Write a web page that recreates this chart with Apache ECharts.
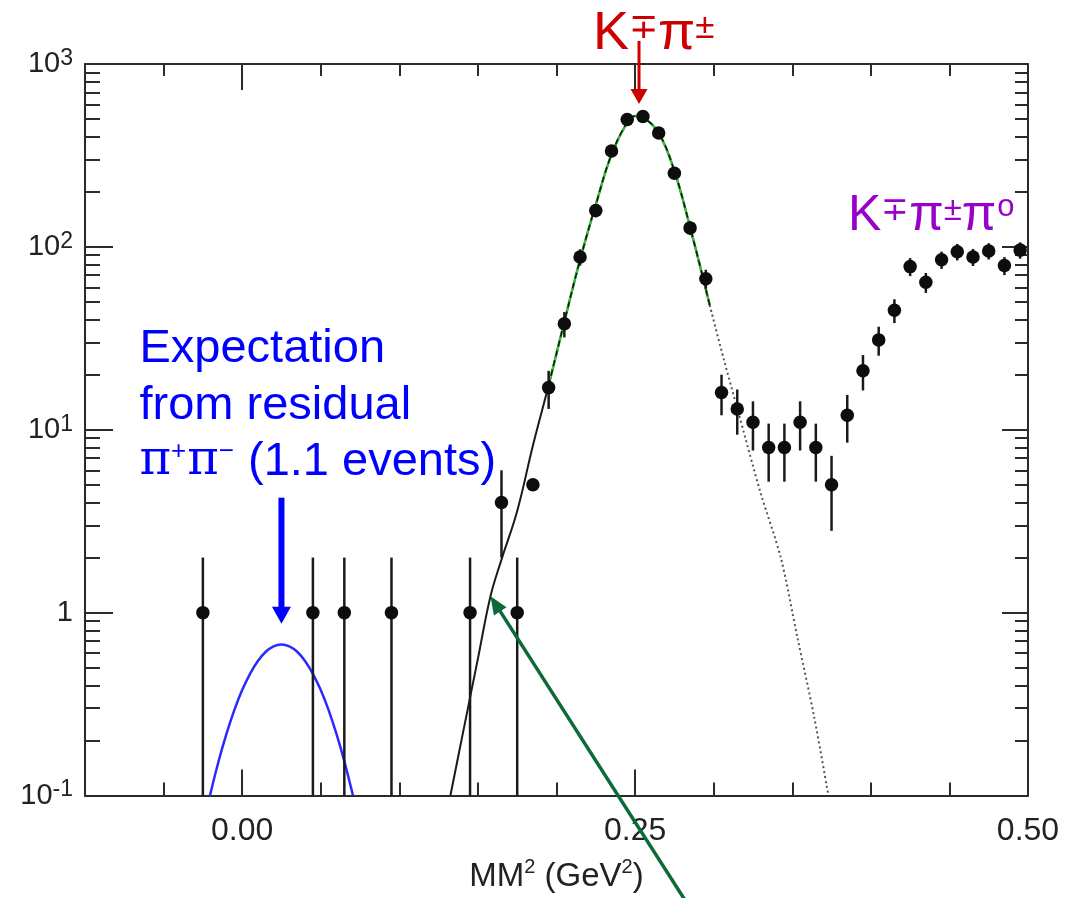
<!DOCTYPE html>
<html><head><meta charset="utf-8">
<script src="https://cdn.jsdelivr.net/npm/echarts@6/dist/echarts.min.js"></script>
<style>html,body{margin:0;padding:0;background:#fff}#c{width:1071px;height:898px}</style>
</head><body><div id="c"></div>
<script>
// ---- data ----
const binCenters = [-0.025, 0.045, 0.065, 0.095, 0.145, 0.165, 0.175, 0.185, 0.195, 0.205, 0.215, 0.225, 0.235, 0.245, 0.255, 0.265, 0.275, 0.285, 0.295, 0.305, 0.315, 0.325, 0.335, 0.345, 0.355, 0.365, 0.375, 0.385, 0.395, 0.405, 0.415, 0.425, 0.435, 0.445, 0.455, 0.465, 0.475, 0.485, 0.495];
const counts = [1, 1, 1, 1, 1, 4, 1, 5, 17, 38, 88, 158, 334, 497, 516, 420, 253, 127, 67, 16, 13, 11, 8, 8, 11, 8, 5, 12, 21, 31, 45, 78, 64, 85, 94, 88, 95, 79, 96];
const countErrors = [1, 1, 1, 1, 1, 2, 1, 0, 4, 6, 9, 13, 18, 22, 23, 20, 16, 11, 8, 4, 3.6, 3.3, 2.8, 2.8, 3.3, 2.8, 2.2, 3.5, 4.6, 5.6, 6.7, 8.8, 8, 9.2, 9.7, 9.4, 9.7, 8.9, 9.8];

const pipiX = [-0.0205, -0.015, -0.01, -0.005, 0, 0.005, 0.01, 0.015, 0.02, 0.025, 0.03, 0.035, 0.04, 0.045, 0.05, 0.055, 0.06, 0.065, 0.0705];
const pipiY = [0.1, 0.154, 0.217, 0.293, 0.377, 0.463, 0.544, 0.611, 0.654, 0.669, 0.654, 0.611, 0.544, 0.463, 0.377, 0.293, 0.217, 0.154, 0.1];

const kpiFitX = [0.1325, 0.14, 0.15, 0.158, 0.165, 0.175, 0.185, 0.195, 0.205, 0.215, 0.225, 0.235, 0.245, 0.25, 0.255, 0.265, 0.275, 0.285, 0.2975];
const kpiFitY = [0.1, 0.21, 0.56, 1.23, 1.95, 3.6, 8.2, 17.5, 39, 85, 170, 320, 480, 520, 510, 420, 260, 128, 48];
const peakRangeStart = 0.195;

const kpiTailX = [0.2975, 0.3066, 0.315, 0.3299, 0.3427, 0.3533, 0.3639, 0.373];
const kpiTailY = [48, 24, 13.1, 4.5, 2.0, 0.73, 0.27, 0.1];

const xMajorValues = [0, 0.25, 0.5];
const xLabelTexts = ['0.00', '0.25', '0.50'];
const yMinorValues = [0.2,0.3,0.4,0.5,0.6,0.7,0.8,0.9, 2,3,4,5,6,7,8,9, 20,30,40,50,60,70,80,90, 200,300,400,500,600,700,800,900];

const X_MIN = -0.1, X_MAX = 0.5, Y_MIN = 0.1, Y_MAX = 1000;

// ---- helpers ----
const zip = (xs, ys) => xs.map((x, i) => [x, ys[i]]);
const FONT = '"Liberation Sans", Arial, Helvetica, sans-serif';
const AX = '#2b2b2b';

const errData = binCenters.map((x, i) => [x, Math.max(counts[i] - countErrors[i], Y_MIN), counts[i] + countErrors[i]])
  .filter((d, i) => countErrors[i] > 0);
const peakIdx = kpiFitX.findIndex(x => x >= peakRangeStart);
const kpiPeak = zip(kpiFitX, kpiFitY).slice(peakIdx);

function yLabel(v) {
  const e = Math.round(Math.log10(v));
  if (e === 0) return '{b|1}';
  return '{b|10}{s|' + e + '}';
}

const chart = echarts.init(document.getElementById('c'));
const baseX = { type: 'value', min: X_MIN, max: X_MAX, interval: 0.05, splitLine: { show: false } };
const tickLine = { color: AX, width: 2 };
const option = {
  animation: false,
  backgroundColor: '#fff',
  grid: { left: 85, right: 43, top: 64, bottom: 100, containLabel: false },
  xAxis: [
    Object.assign({}, baseX, {
      position: 'bottom',
      axisLine: { show: true, onZero: false, lineStyle: { color: AX, width: 2 } },
      axisTick: { inside: true, length: 13, lineStyle: tickLine },
      axisLabel: {
        customValues: xMajorValues, margin: 20, color: '#222', fontSize: 32, fontFamily: FONT,
        formatter: v => xLabelTexts[xMajorValues.findIndex(m => Math.abs(m - v) < 1e-9)] || ''
      },
      name: '{t|MM}{s|2}{t| (GeV}{s|2}{t|)}', nameLocation: 'middle', nameGap: 62,
      nameTextStyle: {
        color: '#222', fontFamily: FONT,
        rich: { t: { fontSize: 33, lineHeight: 38, fontFamily: FONT, color: '#222' },
                s: { fontSize: 20, verticalAlign: 'top', fontFamily: FONT, color: '#222' } }
      }
    }),
    Object.assign({}, baseX, {
      position: 'bottom', axisLine: { show: false, onZero: false },
      axisTick: { inside: true, length: 26, customValues: xMajorValues, lineStyle: tickLine },
      axisLabel: { show: false }
    }),
    Object.assign({}, baseX, {
      position: 'top',
      axisLine: { show: true, onZero: false, lineStyle: { color: AX, width: 2 } },
      axisTick: { inside: true, length: 12, lineStyle: tickLine },
      axisLabel: { show: false }
    }),
    Object.assign({}, baseX, {
      position: 'top', axisLine: { show: false, onZero: false },
      axisTick: { inside: true, length: 26, customValues: xMajorValues, lineStyle: tickLine },
      axisLabel: { show: false }
    })
  ],
  yAxis: [
    {
      type: 'log', logBase: 10, min: Y_MIN, max: Y_MAX, splitNumber: 4, position: 'left',
      splitLine: { show: false },
      axisLine: { show: true, onZero: false, lineStyle: { color: AX, width: 2 } },
      axisTick: { inside: true, length: 28, lineStyle: tickLine },
      axisLabel: {
        margin: 12, formatter: yLabel,
        rich: { b: { fontSize: 29, lineHeight: 34, fontFamily: FONT, color: '#222' },
                s: { fontSize: 23, verticalAlign: 'top', fontFamily: FONT, color: '#222' } }
      }
    },
    {
      type: 'value', min: Math.log10(Y_MIN), max: Math.log10(Y_MAX), position: 'left',
      splitLine: { show: false }, axisLine: { show: false, onZero: false }, axisLabel: { show: false },
      axisTick: { inside: true, length: 15, customValues: yMinorValues.map(v => Math.log10(v)), lineStyle: tickLine }
    },
    {
      type: 'log', logBase: 10, min: Y_MIN, max: Y_MAX, splitNumber: 4, position: 'right',
      splitLine: { show: false },
      axisLine: { show: true, onZero: false, lineStyle: { color: AX, width: 2 } },
      axisTick: { inside: true, length: 26, lineStyle: tickLine },
      axisLabel: { show: false }
    },
    {
      type: 'value', min: Math.log10(Y_MIN), max: Math.log10(Y_MAX), position: 'right',
      splitLine: { show: false }, axisLine: { show: false, onZero: false }, axisLabel: { show: false },
      axisTick: { inside: true, length: 13, customValues: yMinorValues.map(v => Math.log10(v)), lineStyle: tickLine }
    }
  ],
  series: [
    { type: 'line', name: 'pipi', data: zip(pipiX, pipiY), showSymbol: false, smooth: 0.4,
      lineStyle: { color: '#2a2aff', width: 2.5 }, z: 2 },
    { type: 'line', name: 'kpi fit', data: zip(kpiFitX, kpiFitY), showSymbol: false, smooth: 0.4,
      lineStyle: { color: '#1a1a1a', width: 2 }, z: 2 },
    { type: 'line', name: 'kpi peak', data: kpiPeak, showSymbol: false, smooth: 0.4,
      lineStyle: { color: '#3cc03c', width: 2.5 }, z: 3 },
    { type: 'line', name: 'kpi peak dash', data: kpiPeak, showSymbol: false, smooth: 0.4,
      lineStyle: { color: '#111', width: 1.5, type: [6, 4] }, z: 3 },
    { type: 'line', name: 'kpi tail', data: zip(kpiTailX, kpiTailY), showSymbol: false, smooth: 0.3,
      lineStyle: { color: '#555', width: 2, type: [2, 3] }, z: 2 },
    { type: 'custom', name: 'errors', data: errData, encode: { x: 0, y: [1, 2] }, z: 4,
      renderItem: (params, api) => {
        const p1 = api.coord([api.value(0), api.value(1)]);
        const p2 = api.coord([api.value(0), api.value(2)]);
        return { type: 'line', shape: { x1: p1[0], y1: p1[1], x2: p2[0], y2: p2[1] },
                 style: { stroke: '#1a1a1a', lineWidth: 2.5 } };
      } },
    { type: 'scatter', name: 'data', data: zip(binCenters, counts), symbol: 'circle', symbolSize: 13.5,
      itemStyle: { color: '#0d0d0d', opacity: 1 }, z: 5 }
  ]
};
chart.setOption(option);

// ---- annotations (anchored to data coordinates) ----
const P = (x, y) => chart.convertToPixel({ xAxisIndex: 0, yAxisIndex: 0 }, [x, y]);
function arrow(x1, y1, x2, y2, color, w, hl, hw) {
  const dx = x2 - x1, dy = y2 - y1, L = Math.hypot(dx, dy), ux = dx / L, uy = dy / L;
  const bx = x2 - ux * hl, by = y2 - uy * hl, px = -uy, py = ux;
  return [
    { type: 'line', silent: true, z: 20, shape: { x1, y1, x2: bx + ux * 2, y2: by + uy * 2 }, style: { stroke: color, lineWidth: w } },
    { type: 'polygon', silent: true, z: 20, shape: { points: [[x2, y2], [bx + px * hw / 2, by + py * hw / 2], [bx - px * hw / 2, by - py * hw / 2]] }, style: { fill: color } }
  ];
}
const RED = '#cc0000', PURPLE = '#9900cc', BLUE = '#0000ff', GREEN = '#0b6a38';
const redTip = P(0.2525, 605);
const blueTip = P(0.025, 0.87);
const greenTip = P(0.158, 1.23);
const purpleAnchor = P(0.3854, 150);

const g = [];
g.push(...arrow(redTip[0], redTip[1] - 63, redTip[0], redTip[1], RED, 3, 15, 17));
g.push({ type: 'text', silent: true, z: 21, style: {
  x: redTip[0] - 46, y: redTip[1] - 70, align: 'left', verticalAlign: 'middle',
  text: '{k|K}{s|∓}{k|π}{s|±}',
  rich: { k: { fontSize: 54, lineHeight: 62, fontFamily: FONT, fill: RED },
          s: { fontSize: 35, verticalAlign: 'top', padding: [8, 0, 0, 0], fontFamily: FONT, fill: RED } } } });
g.push({ type: 'text', silent: true, z: 21, style: {
  x: purpleAnchor[0], y: purpleAnchor[1] + 2, align: 'left', verticalAlign: 'middle',
  text: '{k|K}{s|∓}{k|π}{s|±}{k|π}{o|o}',
  rich: { k: { fontSize: 50, lineHeight: 60, fontFamily: FONT, fill: PURPLE },
          s: { fontSize: 33, verticalAlign: 'top', padding: [8, 0, 0, 0], fontFamily: FONT, fill: PURPLE },
          o: { fontSize: 31, verticalAlign: 'top', padding: [5, 0, 0, 1], fontFamily: FONT, fill: PURPLE } } } });
g.push(...arrow(blueTip[0], blueTip[1] - 126, blueTip[0], blueTip[1], BLUE, 6, 17, 19));
const bx = blueTip[0] - 142;
const lines = ['{t|Expectation}', '{t|from residual}', '{p|π}{u|+}{p|π}{u|−}{t| (1.1 events)}'];
const lineY = [-275, -218, -162];
lines.forEach((txt, i) => g.push({ type: 'text', silent: true, z: 21, style: {
  x: bx, y: blueTip[1] + lineY[i], align: 'left', verticalAlign: 'middle', text: txt,
  rich: { t: { fontSize: 47, lineHeight: 52, fontFamily: FONT, fill: BLUE },
          p: { fontSize: 48, lineHeight: 52, fontFamily: '"DejaVu Serif", "Liberation Serif", serif', fill: BLUE },
          u: { fontSize: 26, verticalAlign: 'top', padding: [3, 1, 0, 0], fontFamily: FONT, fill: BLUE } } } }));
g.push(...arrow(greenTip[0] + 0.64 * 310, greenTip[1] + 310, greenTip[0], greenTip[1], GREEN, 3.5, 18, 15));
chart.setOption({ graphic: g });
</script></body></html>
